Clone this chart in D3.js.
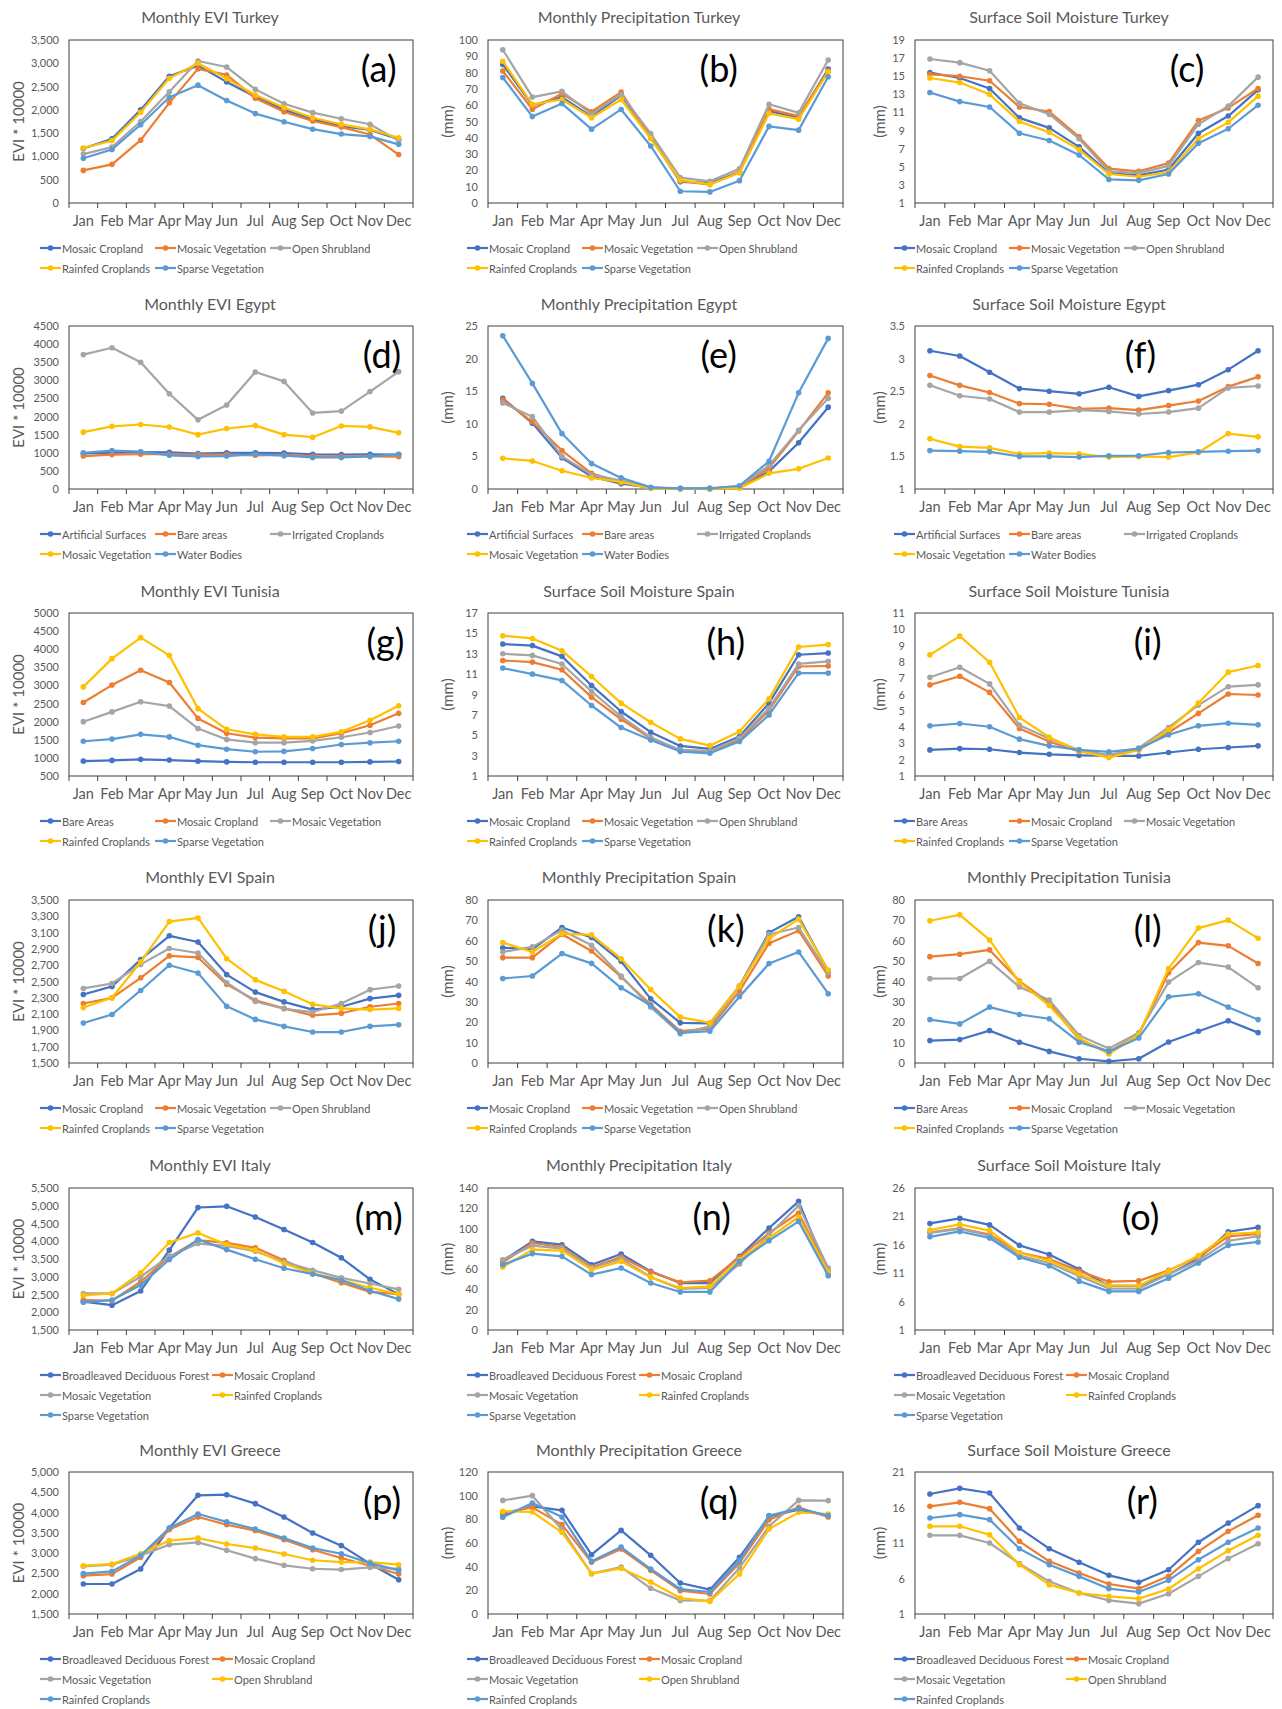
<!DOCTYPE html>
<html>
<head>
<meta charset="utf-8">
<script src="https://cdn.jsdelivr.net/npm/d3@7"></script>
<style>
  body { margin: 0; background: #fff; }
  svg text { font-family: Lato, "Open Sans", sans-serif; fill: #595959; }
</style>
</head>
<body>
<div id="chart"></div>
<script>
const months = ["Jan", "Feb", "Mar", "Apr", "May", "Jun", "Jul", "Aug", "Sep", "Oct", "Nov", "Dec"]
const colors = ["#4472C4", "#ED7D31", "#A5A5A5", "#FFC000", "#5B9BD5"]

const namesTurkeySpain = ["Mosaic Cropland", "Mosaic Vegetation", "Open Shrubland", "Rainfed Croplands", "Sparse Vegetation"]
const namesEgypt = ["Artificial Surfaces", "Bare areas", "Irrigated Croplands", "Mosaic Vegetation", "Water Bodies"]
const namesTunisia = ["Bare Areas", "Mosaic Cropland", "Mosaic Vegetation", "Rainfed Croplands", "Sparse Vegetation"]
const namesItaly = ["Broadleaved Deciduous Forest", "Mosaic Cropland", "Mosaic Vegetation", "Rainfed Croplands", "Sparse Vegetation"]
const namesGreece = ["Broadleaved Deciduous Forest", "Mosaic Cropland", "Mosaic Vegetation", "Open Shrubland", "Rainfed Croplands"]

// values, one row per land cover class
const eviTurkey = [
  [1170, 1380, 2000, 2720, 2950, 2600, 2280, 2000, 1800, 1650, 1570, 1370],
  [700, 830, 1350, 2150, 2880, 2750, 2250, 1960, 1760, 1630, 1470, 1040],
  [1050, 1200, 1750, 2390, 3050, 2920, 2440, 2130, 1940, 1810, 1690, 1340],
  [1180, 1340, 1950, 2680, 3000, 2670, 2320, 2050, 1830, 1690, 1580, 1400],
  [960, 1150, 1680, 2270, 2530, 2200, 1920, 1745, 1585, 1480, 1430, 1260]
]
const precipTurkey = [
  [85, 60, 65, 53, 66, 41, 13, 12.3, 19, 56.4, 52.5, 82.2],
  [81, 57.5, 67, 56, 68, 40, 13.5, 11.3, 19, 57.6, 53.3, 81],
  [94, 65, 68.5, 54.5, 66.6, 42.6, 15.6, 13.3, 21, 60.6, 55.3, 87.7],
  [87, 60.5, 63.5, 52.3, 63.5, 39.5, 14, 11.5, 18.4, 55, 51.4, 80.5],
  [77, 53, 61, 45.3, 57.4, 35, 7.2, 6.8, 13.7, 47, 44.7, 77.5]
]
const smTurkey = [
  [15.4, 14.8, 13.65, 10.4, 9.3, 7.2, 4.3, 4.05, 4.7, 8.7, 10.6, 13.5],
  [15.2, 15.0, 14.5, 11.6, 11.1, 8.3, 4.8, 4.5, 5.4, 10.1, 11.5, 13.65],
  [16.9, 16.5, 15.6, 12.0, 10.8, 8.1, 4.5, 4.3, 5.1, 9.7, 11.7, 14.9],
  [14.8, 14.3, 13.0, 10.0, 8.8, 6.9, 4.2, 3.9, 4.4, 8.1, 9.9, 12.8],
  [13.2, 12.2, 11.6, 8.7, 7.9, 6.3, 3.6, 3.5, 4.2, 7.6, 9.2, 11.8]
]
const eviEgypt = [
  [980, 1000, 1020, 1010, 980, 1000, 1000, 990, 960, 950, 960, 950],
  [910, 950, 960, 960, 950, 950, 930, 940, 900, 900, 900, 890],
  [3710, 3900, 3500, 2630, 1910, 2320, 3230, 2970, 2100, 2150, 2690, 3240],
  [1570, 1730, 1780, 1710, 1500, 1670, 1750, 1500, 1430, 1740, 1715, 1550],
  [1000, 1060, 1030, 930, 900, 910, 960, 920, 870, 870, 900, 960]
]
const precipEgypt = [
  [13.9, 10.1, 4.8, 1.9, 0.8, 0.2, 0.05, 0.05, 0.3, 2.7, 7.1, 12.55],
  [13.7, 10.3, 5.9, 2.4, 1.0, 0.15, 0.05, 0.05, 0.3, 3.2, 8.9, 14.75],
  [13.2, 11.1, 5.0, 2.2, 1.3, 0.2, 0.05, 0.1, 0.4, 3.6, 9.0, 13.9],
  [4.7, 4.3, 2.8, 1.7, 1.1, 0.1, 0.02, 0.05, 0.1, 2.4, 3.1, 4.76],
  [23.5, 16.2, 8.5, 3.9, 1.7, 0.25, 0.1, 0.1, 0.5, 4.25, 14.75, 23.1]
]
const smEgypt = [
  [3.12, 3.04, 2.79, 2.54, 2.50, 2.46, 2.56, 2.42, 2.51, 2.60, 2.83, 3.12],
  [2.74, 2.59, 2.48, 2.31, 2.30, 2.23, 2.24, 2.21, 2.28, 2.35, 2.57, 2.72],
  [2.59, 2.43, 2.38, 2.18, 2.18, 2.21, 2.19, 2.15, 2.18, 2.24, 2.55, 2.58],
  [1.77, 1.65, 1.63, 1.54, 1.55, 1.54, 1.49, 1.50, 1.49, 1.56, 1.85, 1.80],
  [1.59, 1.58, 1.57, 1.50, 1.50, 1.49, 1.51, 1.51, 1.56, 1.57, 1.58, 1.59]
]
const eviTunisia = [
  [910, 930, 960, 940, 910, 890, 880, 880, 880, 880, 890, 900],
  [2530, 3010, 3420, 3080, 2090, 1680, 1560, 1540, 1540, 1680, 1900, 2230],
  [2000, 2270, 2550, 2430, 1810, 1510, 1420, 1420, 1470, 1570, 1700, 1880],
  [2960, 3740, 4320, 3830, 2360, 1790, 1650, 1580, 1580, 1720, 2040, 2440],
  [1460, 1520, 1650, 1580, 1350, 1240, 1170, 1180, 1260, 1370, 1420, 1460]
]
const smSpain = [
  [13.95, 13.8, 12.74, 9.89, 7.33, 5.3, 3.95, 3.66, 4.87, 8.15, 12.9, 13.07],
  [12.34, 12.18, 11.43, 8.74, 6.57, 4.7, 3.5, 3.4, 4.54, 7.43, 11.75, 11.8],
  [13.0, 12.84, 12.0, 9.3, 6.84, 4.8, 3.56, 3.46, 4.7, 7.66, 12.0, 12.25],
  [14.77, 14.5, 13.3, 10.77, 8.15, 6.28, 4.64, 3.98, 5.36, 8.57, 13.66, 13.9],
  [11.59, 11.0, 10.38, 7.92, 5.75, 4.54, 3.4, 3.23, 4.38, 7.0, 11.1, 11.1]
]
const smTunisia = [
  [2.6, 2.68, 2.64, 2.44, 2.33, 2.27, 2.23, 2.23, 2.44, 2.64, 2.75, 2.85],
  [6.59, 7.12, 6.13, 3.92, 3.11, 2.5, 2.29, 2.6, 3.67, 4.84, 6.03, 5.97],
  [7.06, 7.67, 6.65, 4.12, 3.3, 2.6, 2.27, 2.72, 3.98, 5.35, 6.48, 6.59],
  [8.43, 9.58, 7.98, 4.59, 3.38, 2.54, 2.13, 2.6, 3.83, 5.48, 7.37, 7.78],
  [4.08, 4.22, 4.02, 3.26, 2.85, 2.6, 2.48, 2.68, 3.53, 4.08, 4.24, 4.14]
]
const eviSpain = [
  [2340, 2440, 2770, 3060, 2985, 2585, 2370, 2250, 2155, 2190, 2290, 2330],
  [2230, 2300, 2545, 2815, 2795, 2465, 2270, 2170, 2085, 2110, 2190, 2230],
  [2415, 2475, 2710, 2905, 2850, 2485, 2255, 2165, 2125, 2230, 2400, 2445],
  [2180, 2300, 2740, 3235, 3280, 2780, 2520, 2380, 2220, 2170, 2155, 2170],
  [1990, 2095, 2390, 2700, 2605, 2195, 2035, 1950, 1880, 1880, 1950, 1970]
]
const precipSpain = [
  [56.6, 55.8, 66.5, 61.6, 49.9, 31.5, 19.7, 19.4, 37.8, 64, 71.8, 45.2],
  [51.7, 51.7, 63.2, 55, 42.2, 28.7, 15.6, 16.9, 35.3, 58.8, 64.9, 42.7],
  [54.5, 57, 65.2, 57.8, 42.7, 27.4, 14.4, 18, 37.4, 63.2, 66.5, 44.3],
  [59.1, 54.5, 63.5, 62.9, 51.2, 36.1, 22.5, 19.7, 37.8, 61.1, 70.6, 45.6],
  [41.5, 42.7, 53.7, 48.9, 36.9, 28.2, 14.8, 15.6, 32.5, 48.8, 54.5, 34]
]
const precipTunisia = [
  [11, 11.5, 15.9, 10.2, 5.7, 2.1, 0.8, 2.1, 10.3, 15.6, 20.7, 14.9],
  [52.2, 53.4, 55.5, 40.2, 29.6, 11.5, 5.4, 14, 44.3, 59.1, 57.5, 48.8],
  [41.4, 41.5, 49.9, 37.3, 30.9, 13.5, 7.1, 14.8, 39.7, 49.3, 47.1, 36.9],
  [69.8, 72.7, 60.4, 39.7, 28.2, 12.3, 4.4, 14, 46.3, 66.2, 70.1, 61.2],
  [21.3, 19.2, 27.4, 23.8, 21.7, 10.2, 5.7, 12.3, 32.5, 34, 27.4, 21.3]
]
const eviItaly = [
  [2300, 2200, 2600, 3750, 4950, 4985, 4685, 4330, 3965, 3535, 2925, 2510],
  [2345, 2325, 2860, 3560, 4030, 3955, 3815, 3465, 3095, 2830, 2575, 2510],
  [2530, 2530, 3000, 3580, 3935, 3870, 3720, 3420, 3185, 2970, 2810, 2645],
  [2475, 2530, 3110, 3965, 4235, 3905, 3750, 3375, 3095, 2905, 2690, 2510],
  [2280, 2345, 2765, 3485, 4050, 3765, 3495, 3240, 3075, 2905, 2605, 2370]
]
const precipItaly = [
  [68.4, 87.4, 84.1, 64.4, 74.9, 57.8, 46.3, 46.3, 72.6, 100.6, 126.8, 56.2],
  [66.7, 85.8, 81.8, 62.1, 72, 57.2, 47, 48.6, 71.6, 95.6, 115.4, 57.8],
  [69.3, 83.1, 80.2, 61.1, 70, 52.3, 40.4, 41.4, 65.1, 94, 122.6, 61.1],
  [62.1, 79.2, 78.2, 59.5, 67.7, 51.9, 41.4, 43, 69.3, 90.7, 111.4, 56.9],
  [64.4, 75.3, 72.6, 54.6, 61.1, 46.3, 37.5, 37.5, 67.7, 88.1, 107.1, 53.6]
]
const smItaly = [
  [19.76, 20.65, 19.5, 15.9, 14.3, 11.7, 8.76, 8.76, 10.8, 13.5, 18.3, 19.06],
  [18.2, 18.9, 17.8, 14.65, 13.5, 11.4, 9.5, 9.65, 11.5, 13.8, 17.5, 17.9],
  [18.1, 18.8, 17.6, 14.1, 12.8, 10.5, 8.3, 8.3, 10.8, 13.2, 16.7, 17.5],
  [18.6, 19.6, 18.5, 14.6, 13.2, 10.9, 8.8, 8.8, 11.4, 14.1, 17.9, 18.2],
  [17.4, 18.35, 17.2, 13.8, 12.3, 9.6, 7.8, 7.8, 10.1, 12.8, 15.9, 16.5]
]
const eviGreece = [
  [2240, 2240, 2610, 3620, 4425, 4440, 4220, 3890, 3495, 3185, 2740, 2345],
  [2445, 2485, 2895, 3580, 3890, 3700, 3555, 3330, 3085, 2880, 2690, 2485],
  [2675, 2715, 2940, 3210, 3265, 3070, 2865, 2700, 2615, 2595, 2650, 2610],
  [2690, 2730, 2985, 3310, 3370, 3225, 3125, 2980, 2825, 2780, 2780, 2715],
  [2495, 2550, 2940, 3620, 3965, 3770, 3595, 3375, 3125, 2985, 2755, 2575]
]
const precipGreece = [
  [84, 91, 87.6, 50.1, 70.7, 49.6, 26.2, 20.6, 47.9, 82.5, 88.2, 83.1],
  [85.4, 90.1, 75.5, 43.7, 54.9, 36.9, 19.7, 16.9, 43.1, 79.7, 90.1, 82],
  [96, 100, 71.3, 34.1, 39.7, 21.7, 11.5, 11.3, 38.9, 74.1, 96, 95.8],
  [86.8, 86.2, 69, 34.1, 38.6, 27, 13.5, 10.7, 33.8, 71.8, 85.9, 84.5],
  [81.7, 93.8, 82, 44.5, 56.6, 38, 21.1, 18.6, 45.1, 83.1, 89, 83.1]
]
const smGreece = [
  [17.9, 18.7, 18.04, 13.1, 10.2, 8.28, 6.45, 5.46, 7.24, 11.1, 13.8, 16.26],
  [16.16, 16.73, 15.84, 11.23, 8.42, 6.77, 5.23, 4.57, 6.31, 9.83, 12.64, 14.9],
  [12.08, 12.08, 11.0, 8.09, 5.6, 3.96, 2.92, 2.46, 3.86, 6.3, 8.8, 10.9],
  [13.35, 13.35, 12.17, 7.95, 5.13, 3.96, 3.49, 3.16, 4.52, 7.38, 9.92, 12.08],
  [14.52, 14.99, 14.29, 10.2, 7.95, 6.3, 4.57, 4.1, 5.74, 8.65, 11.1, 13.1]
]

const panels = [
  { letter: "a", title: "Monthly EVI Turkey", names: namesTurkeySpain, data: eviTurkey, y: [0, 3500, 500], fmt: ",", lx: 0.9 },
  { letter: "b", title: "Monthly Precipitation Turkey", names: namesTurkeySpain, data: precipTurkey, y: [0, 100, 10], lx: 0.65 },
  { letter: "c", title: "Surface Soil Moisture Turkey", names: namesTurkeySpain, data: smTurkey, y: [1, 19, 2], lx: 0.76 },
  { letter: "d", title: "Monthly EVI Egypt", names: namesEgypt, data: eviEgypt, y: [0, 4500, 500], lx: 0.91 },
  { letter: "e", title: "Monthly Precipitation Egypt", names: namesEgypt, data: precipEgypt, y: [0, 25, 5], lx: 0.65 },
  { letter: "f", title: "Surface Soil Moisture Egypt", names: namesEgypt, data: smEgypt, y: [1, 3.5, 0.5], lx: 0.63 },
  { letter: "g", title: "Monthly EVI Tunisia", names: namesTunisia, data: eviTunisia, y: [500, 5000, 500], lx: 0.92 },
  { letter: "h", title: "Surface Soil Moisture Spain", names: namesTurkeySpain, data: smSpain, y: [1, 17, 2], lx: 0.67 },
  { letter: "i", title: "Surface Soil Moisture Tunisia", names: namesTunisia, data: smTunisia, y: [1, 11, 1], lx: 0.65 },
  { letter: "j", title: "Monthly EVI Spain", names: namesTurkeySpain, data: eviSpain, y: [1500, 3500, 200], fmt: ",", lx: 0.91 },
  { letter: "k", title: "Monthly Precipitation Spain", names: namesTurkeySpain, data: precipSpain, y: [0, 80, 10], lx: 0.67 },
  { letter: "l", title: "Monthly Precipitation Tunisia", names: namesTunisia, data: precipTunisia, y: [0, 80, 10], lx: 0.65 },
  { letter: "m", title: "Monthly EVI Italy", names: namesItaly, data: eviItaly, y: [1500, 5500, 500], fmt: ",", lx: 0.9 },
  { letter: "n", title: "Monthly Precipitation Italy", names: namesItaly, data: precipItaly, y: [0, 140, 20], lx: 0.63 },
  { letter: "o", title: "Surface Soil Moisture Italy", names: namesItaly, data: smItaly, y: [1, 26, 5], lx: 0.63 },
  { letter: "p", title: "Monthly EVI Greece", names: namesGreece, data: eviGreece, y: [1500, 5000, 500], fmt: ",", lx: 0.91 },
  { letter: "q", title: "Monthly Precipitation Greece", names: namesGreece, data: precipGreece, y: [0, 120, 20], lx: 0.65 },
  { letter: "r", title: "Surface Soil Moisture Greece", names: namesGreece, data: smGreece, y: [1, 21, 5], lx: 0.635 }
]

// layout
const rows = [
  { title: 16, top: 40, bottom: 203 },
  { title: 303, top: 326, bottom: 489 },
  { title: 590, top: 613, bottom: 776 },
  { title: 876, top: 900, bottom: 1063 },
  { title: 1164, top: 1188, bottom: 1330 },
  { title: 1449, top: 1472, bottom: 1614 }
]
const cols = [
  { x0: 0, left: 69, right: 413, center: 210, yTitle: 18 },
  { x0: 427, left: 488, right: 843, center: 639, yTitle: 447 },
  { x0: 854, left: 915, right: 1273, center: 1069, yTitle: 879 }
]

const svg = d3.select("#chart")
  .append("svg")
  .attr("width", 1282)
  .attr("height", 1709)

svg.append("rect")
  .attr("width", 1282)
  .attr("height", 1709)
  .attr("fill", "#fff")

panels.forEach((p, i) => {
  const row = rows[Math.floor(i / 3)]
  const col = cols[i % 3]
  const g = svg.append("g")

  const xScale = d3.scaleBand()
    .domain(months)
    .range([col.left, col.right])
  const xMid = (m) => xScale(m) + xScale.bandwidth() / 2

  const yScale = d3.scaleLinear()
    .domain([p.y[0], p.y[1]])
    .range([row.bottom, row.top])

  const ticks = d3.range(p.y[0], p.y[1] + p.y[2] / 2, p.y[2])

  // title
  g.append("text")
    .attr("x", col.center)
    .attr("y", row.title)
    .attr("text-anchor", "middle")
    .attr("dominant-baseline", "central")
    .style("font-size", "16px")
    .text(p.title)

  // y axis
  const yAxis = d3.axisLeft(yScale)
    .tickValues(ticks)
    .tickSize(0)
    .tickPadding(10)
    .tickFormat(p.fmt ? d3.format(p.fmt) : (d) => String(+d.toFixed(2)))
  const yAxisGroup = g.append("g")
    .attr("transform", `translate(${col.left},0)`)
    .call(yAxis)
  yAxisGroup.select(".domain").remove()
  yAxisGroup.selectAll("text")
    .style("font-size", "11px")
    .attr("fill", "#595959")

  g.append("text")
    .attr("transform", `translate(${col.yTitle},${(row.top + row.bottom) / 2}) rotate(-90)`)
    .attr("text-anchor", "middle")
    .attr("dominant-baseline", "central")
    .style("font-size", "15px")
    .text(i % 3 === 0 ? "EVI * 10000" : "(mm)")

  // x axis, labels centred in the bands, ticks at the band edges
  const xAxis = d3.axisBottom(xScale)
    .tickSize(0)
    .tickPadding(13)
  const xAxisGroup = g.append("g")
    .attr("transform", `translate(0,${row.bottom})`)
    .call(xAxis)
  xAxisGroup.select(".domain").remove()
  xAxisGroup.selectAll("text")
    .style("font-size", "14.5px")
    .attr("fill", "#595959")

  g.append("g")
    .selectAll("line")
    .data(d3.range(13))
    .join("line")
    .attr("x1", d => col.left + d * xScale.step())
    .attr("x2", d => col.left + d * xScale.step())
    .attr("y1", row.bottom)
    .attr("y2", row.bottom + 5)
    .attr("stroke", "#404040")

  g.append("rect")
    .attr("x", col.left)
    .attr("y", row.top)
    .attr("width", col.right - col.left)
    .attr("height", row.bottom - row.top)
    .attr("fill", "none")
    .attr("stroke", "#404040")
    .attr("stroke-width", 1)

  // series
  const line = d3.line()
    .x((d, j) => xMid(months[j]))
    .y(d => yScale(d))

  p.data.forEach((values, s) => {
    g.append("path")
      .datum(values)
      .attr("d", line)
      .attr("fill", "none")
      .attr("stroke", colors[s])
      .attr("stroke-width", 2.2)
      .attr("stroke-linejoin", "round")

    g.append("g")
      .selectAll("circle")
      .data(values)
      .join("circle")
      .attr("cx", (d, j) => xMid(months[j]))
      .attr("cy", d => yScale(d))
      .attr("r", 2.8)
      .attr("fill", colors[s])
  })

  // panel letter
  g.append("text")
    .attr("x", col.left + p.lx * (col.right - col.left))
    .attr("y", row.top + 28)
    .attr("text-anchor", "middle")
    .attr("dominant-baseline", "central")
    .style("font-size", "36px")
    .style("fill", "#000")
    .text(`(${p.letter})`)

  // legend
  const nCols = i >= 12 ? 2 : 3
  const colW = nCols === 2 ? 172 : 115
  const legend = g.append("g")
    .selectAll("g")
    .data(p.names)
    .join("g")
    .attr("transform", (d, s) =>
      `translate(${col.x0 + 40 + (s % nCols) * colW},${row.bottom + 45 + Math.floor(s / nCols) * 20})`)

  legend.append("line")
    .attr("x1", 0)
    .attr("x2", 21)
    .attr("stroke", (d, s) => colors[s])
    .attr("stroke-width", 2.2)
  legend.append("circle")
    .attr("cx", 10.5)
    .attr("r", 2.8)
    .attr("fill", (d, s) => colors[s])
  legend.append("text")
    .attr("x", 22)
    .attr("dominant-baseline", "central")
    .style("font-size", "11px")
    .text(d => d)
})
</script>
</body>
</html>
